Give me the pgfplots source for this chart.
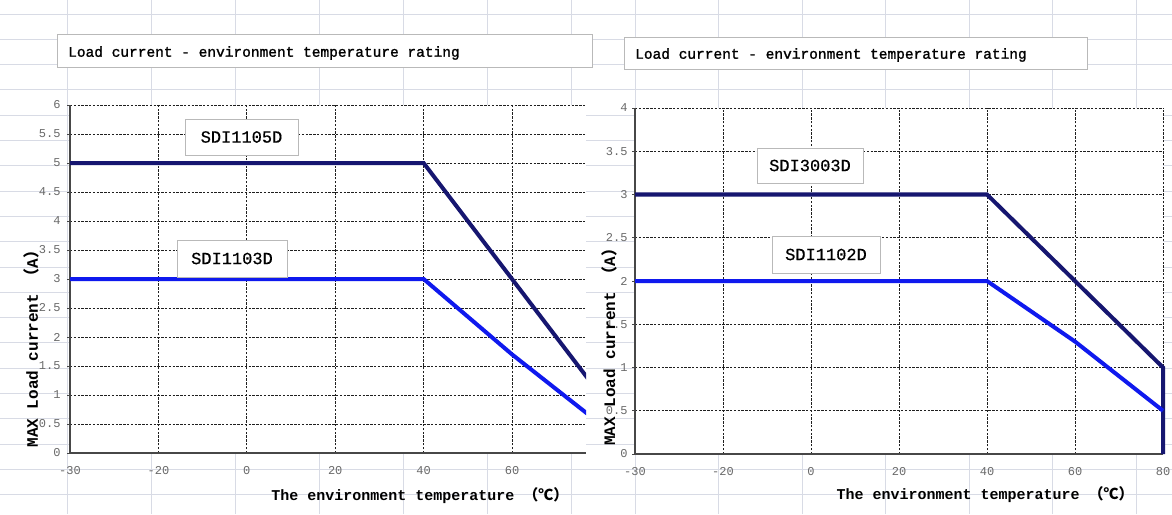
\documentclass[border=0pt]{standalone}
\usepackage{fontspec}
\usepackage{pgfplots}
\pgfplotsset{compat=1.18}
\setmainfont{Liberation Mono}
\newfontfamily\mono{Liberation Mono}
\newfontfamily\titlefont[FakeBold=1.4]{Liberation Mono}
\newfontfamily\namefont[FakeBold=0.5]{Liberation Mono}
\newfontfamily\cjk{Noto Sans CJK SC}
\definecolor{darkline}{RGB}{22,22,112}
\definecolor{blueline}{RGB}{15,25,238}
\definecolor{tickgray}{RGB}{105,105,105}
\definecolor{sheetgrid}{RGB}{216,219,229}
\definecolor{boxgray}{RGB}{185,185,185}
\pgfplotsset{
  chartstyle/.style={
    scale only axis, anchor=south west,
    axis x line*=bottom, axis y line*=left,
    axis line style={-, draw=black!72, line width=1.2pt},
    xtick={0,1,2,3,4,5,6},
    xticklabels={-30,-20,0,20,40,60,80},
    grid=major,
    major grid style={draw=black!88, line width=0.9pt, dash pattern=on 2.4pt off 1.4pt},
    ytick style={draw=black!72, line width=0.8pt},
    xtick style={draw=none},
    major tick length=3pt, tick align=outside,
    ticklabel style={font=\fontsize{12}{14}\selectfont\mono, text=tickgray},
    xticklabel style={yshift=-7pt},
    axis background/.style={fill=white},
    xlabel style={font=\fontsize{15}{18}\selectfont\mono\bfseries, anchor=center},
    ylabel style={font=\fontsize{16}{18}\selectfont\mono\bfseries, anchor=center},
  }
}
\begin{document}
\begin{tikzpicture}[x=1pt,y=1pt]
\useasboundingbox (0,0) rectangle (1172,514);
\fill[white] (0,0) rectangle (1172,514);
% spreadsheet background
\foreach \yy in {14,39.3,...,514} {\draw[sheetgrid, line width=0.8pt] (0,514-\yy) -- (1172,514-\yy);}
\foreach \xx in {67,151,235,319,403,487,571} {\draw[sheetgrid, line width=0.8pt] (\xx,0) -- (\xx,514);}
\foreach \xx in {635,718,802,885,969,1052,1136} {\draw[sheetgrid, line width=0.8pt] (\xx,0) -- (\xx,514);}
% title boxes
\filldraw[fill=white, draw=boxgray, line width=0.8pt] (57,447) rectangle (592,480);
\filldraw[fill=white, draw=boxgray, line width=0.8pt] (624,445) rectangle (1087,477);
\node[anchor=west, inner sep=0pt, font=\fontsize{14.5}{17}\selectfont\titlefont] at (68,461) {Load current - environment temperature rating};
\node[anchor=west, inner sep=0pt, font=\fontsize{14.5}{17}\selectfont\titlefont] at (635,459) {Load current - environment temperature rating};

\begin{axis}[chartstyle,
  at={(70pt,61pt)}, width=516pt, height=348pt,
  xmin=0, xmax=5.837, ymin=0, ymax=6,
  ytick={0,0.5,1,1.5,2,2.5,3,3.5,4,4.5,5,5.5,6},
  yticklabels={0,0.5,1,1.5,2,2.5,3,3.5,4,4.5,5,5.5,6},
  yticklabel style={xshift=-3pt},
  xlabel={The environment temperature {\cjk （℃）}},
  xlabel style={at={(axis description cs:0.678,-0.121)}},
  ylabel={MAX Load current {\cjk （}A{\cjk ）}},
  ylabel style={at={(axis description cs:-0.074,0.31)}},
]
\addplot[darkline, line width=4pt] coordinates {(0,5) (1,5) (2,5) (3,5) (4,5) (5,3) (6,1)};
\addplot[blueline, line width=4pt] coordinates {(0,3) (1,3) (2,3) (3,3) (4,3) (5,1.7) (6,0.5)};
\end{axis}

\begin{axis}[chartstyle,
  at={(635pt,60pt)}, width=528pt, height=346pt,
  xmin=0, xmax=6, ymin=0, ymax=4, clip=false,
  ytick={0,0.5,1,1.5,2,2.5,3,3.5,4},
  yticklabels={0,0.5,1,1.5,2,2.5,3,3.5,4},
  yticklabel style={xshift=-1pt},
  xlabel={The environment temperature {\cjk （℃）}},
  xlabel style={at={(axis description cs:0.663,-0.118)}},
  ylabel={MAX Load current {\cjk （}A{\cjk ）}},
  ylabel style={at={(axis description cs:-0.049,0.32)}},
]
\addplot[darkline, line width=4pt] coordinates {(0,3) (1,3) (2,3) (3,3) (4,3) (5,2) (6,1) (6,0)};
\addplot[blueline, line width=4pt] coordinates {(0,2) (1,2) (2,2) (3,2) (4,2) (5,1.3) (6,0.5)};
\end{axis}

% series name boxes
\tikzset{namebox/.style={draw=boxgray, fill=white, line width=0.8pt, inner sep=0pt, font=\fontsize{17}{20}\selectfont\namefont}}
\node[namebox, minimum width=113pt, minimum height=36pt] at (241.5,377) {SDI1105D};
\node[namebox, minimum width=110pt, minimum height=37pt] at (232,255.5) {SDI1103D};
\node[namebox, minimum width=106pt, minimum height=35pt] at (810,348.5) {SDI3003D};
\node[namebox, minimum width=108pt, minimum height=37pt] at (826,259.5) {SDI1102D};
\end{tikzpicture}
\end{document}
